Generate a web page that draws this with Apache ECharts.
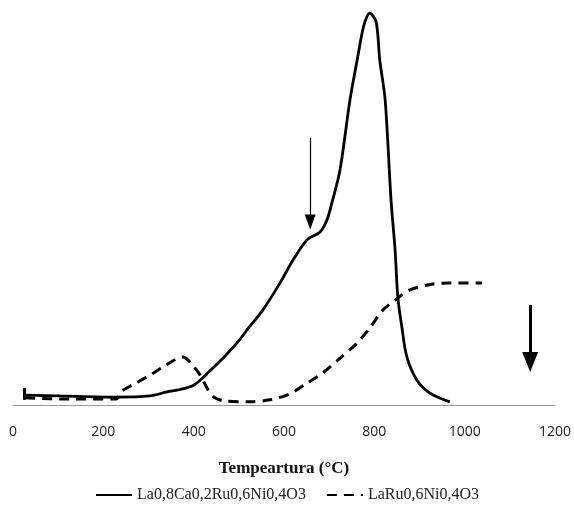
<!DOCTYPE html>
<html>
<head>
<meta charset="utf-8">
<script src="https://cdn.jsdelivr.net/npm/echarts@6/dist/echarts.min.js"></script>
<style>
  html, body { margin: 0; padding: 0; background: #fff; }
  #grafico { width: 574px; height: 508px; }
</style>
</head>
<body>
<div id="grafico"></div>
<script>
// Temperatura (°C) y señal para cada muestra
const tempLaCa = [27, 104, 230, 303, 341, 370, 400, 420, 440, 458, 480, 503, 518, 553, 591, 620, 651, 680, 695, 706, 724, 746, 762, 777, 790, 804, 812, 824, 837, 846, 852, 861, 872, 894, 923, 967];
const senalLaCa = [2.5, 2.3, 2.0, 2.3, 3.3, 3.9, 5.0, 6.8, 9.0, 11.0, 13.6, 16.6, 18.9, 23.9, 30.7, 36.5, 41.6, 43.6, 46.6, 50.9, 59.2, 76.8, 86.9, 95.7, 98.7, 96.5, 86.9, 76.8, 51.6, 39.0, 27.2, 19.6, 12.1, 6.3, 3.0, 0.8];

const tempLaRu = [27, 126, 228, 240, 270, 303, 335, 362, 376, 392, 414, 432, 447, 469, 520, 569, 613, 651, 686, 724, 762, 790, 819, 846, 879, 930, 967, 1038];
const senalLaRu = [1.8, 1.5, 1.5, 3.4, 5.4, 7.5, 9.8, 11.6, 12.1, 10.8, 7.6, 3.8, 1.8, 1.0, 0.8, 1.3, 2.8, 5.5, 8.1, 11.8, 15.6, 19.4, 23.9, 26.4, 29.0, 30.5, 30.7, 30.7];

const nombres = ['La0,8Ca0,2Ru0,6Ni0,4O3', 'LaRu0,6Ni0,4O3'];
const ticksX = [0, 200, 400, 600, 800, 1000, 1200];

// flechas de la figura: [temp, inicio, fin]
const flechaFina = [658, 67.3, 46.1];
const flechaGruesa = [1145, 25.2, 10.8];
const barraInicio = [24, 1.3, 4.3];

const grafico = echarts.init(document.getElementById('grafico'));

grafico.setOption({
    animation: false,
    grid: { left: 13, right: 19, top: 8, bottom: 103, containLabel: false },
    legend: {
        bottom: 0,
        left: 'center',
        itemWidth: 36,
        itemHeight: 10,
        itemGap: 20,
        data: nombres,
        itemStyle: { opacity: 0 },
        textStyle: { fontFamily: 'Liberation Serif', fontSize: 16, color: '#222' }
    },
    xAxis: {
        type: 'value',
        min: 0,
        max: 1200,
        interval: 200,
        name: 'Tempeartura (°C)',
        nameLocation: 'middle',
        nameGap: 55,
        nameTextStyle: { fontFamily: 'Liberation Serif', fontWeight: 'bold', fontSize: 17, color: '#111' },
        axisLine: { lineStyle: { color: '#999', width: 1 } },
        axisTick: { show: false },
        splitLine: { show: false },
        axisLabel: {
            margin: 20,
            fontFamily: 'Open Sans',
            fontSize: 14,
            color: '#222',
            formatter: v => ticksX.includes(v) ? String(v) : ''
        }
    },
    yAxis: {
        type: 'value',
        min: 0,
        max: 100,
        show: false
    },
    series: [
        {
            name: nombres[0],
            type: 'line',
            data: tempLaCa.map((t, i) => [t, senalLaCa[i]]),
            smooth: 0.3,
            symbol: 'none',
            lineStyle: { color: '#000', width: 2.8 },
            itemStyle: { color: '#000' },
            markLine: {
                silent: true,
                symbol: 'none',
                label: { show: false },
                lineStyle: { color: '#000', width: 3, type: 'solid' },
                data: [[
                    { coord: [barraInicio[0], barraInicio[1]] },
                    { coord: [barraInicio[0], barraInicio[2]] }
                ]]
            }
        },
        {
            name: nombres[1],
            type: 'line',
            data: tempLaRu.map((t, i) => [t, senalLaRu[i]]),
            smooth: 0.3,
            symbol: 'none',
            lineStyle: { color: '#000', width: 3, type: [10, 7] },
            itemStyle: { color: '#000' },
            markLine: {
                silent: true,
                label: { show: false },
                data: [
                    [
                        { coord: [flechaFina[0], flechaFina[1]], symbol: 'none', lineStyle: { color: '#000', width: 1.2, type: 'solid' } },
                        { coord: [flechaFina[0], flechaFina[2]], symbol: 'triangle', symbolSize: [11, 15] }
                    ],
                    [
                        { coord: [flechaGruesa[0], flechaGruesa[1]], symbol: 'none', lineStyle: { color: '#000', width: 3, type: 'solid' } },
                        { coord: [flechaGruesa[0], flechaGruesa[2]], symbol: 'triangle', symbolSize: [16, 20] }
                    ]
                ]
            }
        }
    ]
});
</script>
</body>
</html>
